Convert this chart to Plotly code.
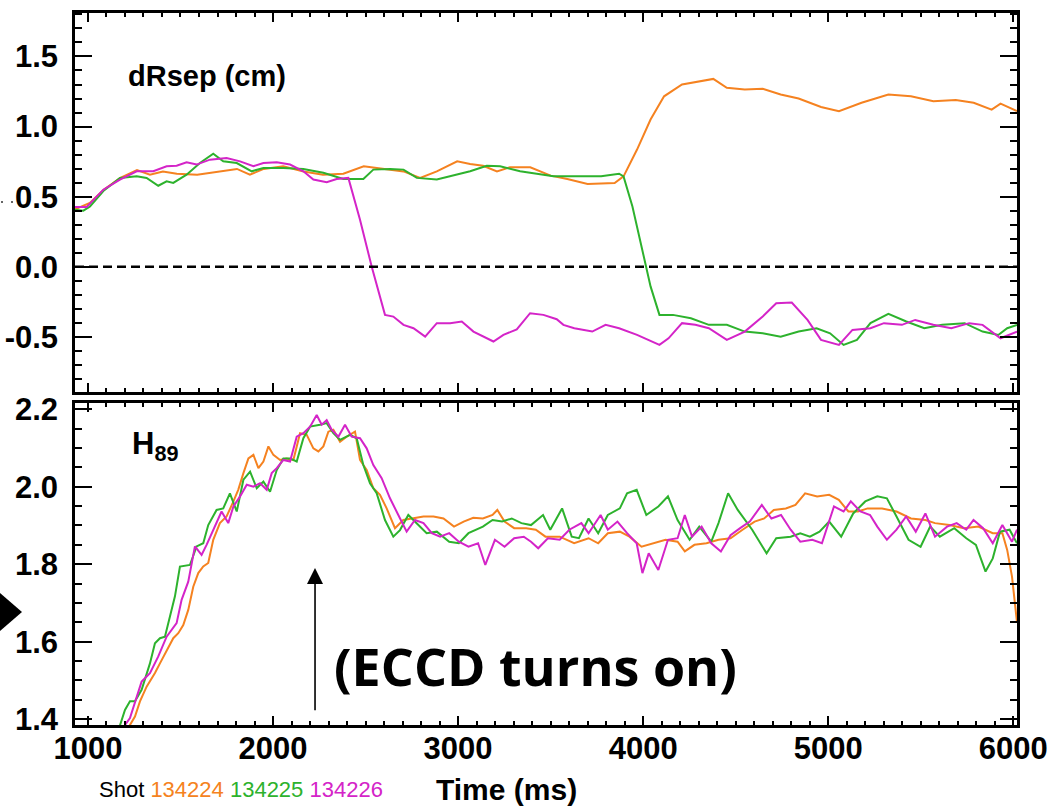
import plotly.graph_objects as go

# ---------------- data ----------------
shots = ["134224", "134225", "134226"]
colors = ["#F58220", "#2DB22D", "#D424C8"]

# dRsep (cm)
t_dr_224 = [930, 1010, 1085, 1175, 1265, 1335, 1405, 1480, 1590, 1680, 1805, 1875, 1950, 2055, 2165, 2270, 2380, 2490, 2595, 2705, 2795, 2885, 2995, 3065, 3135, 3210, 3280, 3390, 3500, 3590, 3700, 3846, 3894, 3967, 4040, 4113, 4210, 4307, 4379, 4452, 4549, 4646, 4743, 4840, 4961, 5058, 5180, 5325, 5447, 5568, 5689, 5786, 5883, 5931, 6020]
dr_224 = [0.41, 0.455, 0.55, 0.634, 0.69, 0.657, 0.68, 0.664, 0.657, 0.674, 0.698, 0.657, 0.698, 0.717, 0.68, 0.657, 0.664, 0.717, 0.698, 0.68, 0.634, 0.68, 0.752, 0.733, 0.72, 0.68, 0.71, 0.71, 0.65, 0.626, 0.59, 0.598, 0.645, 0.836, 1.05, 1.216, 1.30, 1.324, 1.34, 1.276, 1.264, 1.27, 1.229, 1.2, 1.14, 1.11, 1.17, 1.229, 1.217, 1.181, 1.19, 1.17, 1.121, 1.164, 1.11]

t_dr_225 = [930, 975, 1011, 1083, 1173, 1263, 1317, 1380, 1425, 1461, 1533, 1605, 1677, 1731, 1804, 1885, 1948, 2056, 2164, 2272, 2380, 2488, 2542, 2632, 2705, 2777, 2885, 2993, 3065, 3155, 3227, 3335, 3425, 3515, 3604, 3773, 3870, 3894, 3942, 3991, 4040, 4088, 4161, 4258, 4355, 4452, 4549, 4646, 4743, 4840, 4937, 5010, 5083, 5155, 5228, 5325, 5422, 5519, 5616, 5737, 5834, 5919, 5967, 6020]
dr_225 = [0.407, 0.40, 0.43, 0.54, 0.634, 0.645, 0.634, 0.578, 0.609, 0.598, 0.657, 0.74, 0.807, 0.752, 0.74, 0.681, 0.705, 0.705, 0.698, 0.67, 0.626, 0.626, 0.693, 0.698, 0.693, 0.634, 0.622, 0.657, 0.681, 0.721, 0.717, 0.681, 0.662, 0.645, 0.645, 0.645, 0.664, 0.645, 0.43, 0.145, -0.14, -0.343, -0.343, -0.367, -0.414, -0.414, -0.462, -0.474, -0.498, -0.462, -0.438, -0.474, -0.557, -0.521, -0.402, -0.336, -0.39, -0.438, -0.414, -0.402, -0.462, -0.486, -0.438, -0.414]

t_dr_226 = [930, 993, 1083, 1173, 1263, 1353, 1425, 1479, 1533, 1587, 1659, 1749, 1822, 1894, 1948, 2020, 2092, 2164, 2218, 2290, 2344, 2407, 2470, 2533, 2605, 2650, 2705, 2759, 2822, 2885, 2957, 3020, 3083, 3137, 3191, 3245, 3317, 3389, 3461, 3533, 3569, 3628, 3725, 3797, 3870, 3967, 4088, 4137, 4210, 4282, 4355, 4452, 4549, 4646, 4719, 4803, 4888, 4961, 5058, 5131, 5228, 5301, 5398, 5470, 5568, 5665, 5762, 5834, 5931, 6020]
dr_226 = [0.427, 0.427, 0.55, 0.622, 0.681, 0.681, 0.717, 0.721, 0.745, 0.729, 0.764, 0.776, 0.752, 0.717, 0.74, 0.745, 0.729, 0.681, 0.622, 0.603, 0.626, 0.634, 0.336, 0.002, -0.343, -0.355, -0.414, -0.438, -0.498, -0.402, -0.402, -0.39, -0.462, -0.498, -0.533, -0.486, -0.446, -0.331, -0.343, -0.374, -0.414, -0.438, -0.462, -0.414, -0.438, -0.486, -0.557, -0.51, -0.402, -0.414, -0.438, -0.521, -0.462, -0.355, -0.26, -0.255, -0.379, -0.521, -0.557, -0.45, -0.438, -0.402, -0.414, -0.379, -0.414, -0.438, -0.402, -0.414, -0.51, -0.462]

# H89
t_h_224 = [1190, 1227, 1254, 1281, 1317, 1362, 1389, 1434, 1461, 1488, 1515, 1542, 1569, 1596, 1623, 1650, 1677, 1713, 1749, 1786, 1812, 1840, 1867, 1894, 1921, 1948, 1975, 2002, 2038, 2074, 2110, 2146, 2182, 2218, 2245, 2272, 2299, 2326, 2362, 2398, 2443, 2470, 2506, 2542, 2578, 2614, 2659, 2704, 2758, 2813, 2867, 2921, 2978, 3030, 3082, 3134, 3186, 3212, 3251, 3303, 3368, 3420, 3472, 3549, 3627, 3705, 3757, 3809, 3874, 3926, 3991, 4056, 4121, 4186, 4225, 4277, 4342, 4407, 4472, 4537, 4602, 4654, 4706, 4771, 4823, 4875, 4940, 5005, 5057, 5109, 5161, 5213, 5291, 5369, 5447, 5525, 5577, 5655, 5733, 5811, 5889, 5941, 5967, 5993, 6020]
h_224 = [1.34, 1.385, 1.407, 1.446, 1.484, 1.519, 1.544, 1.587, 1.609, 1.622, 1.643, 1.682, 1.742, 1.777, 1.794, 1.803, 1.863, 1.906, 1.923, 1.962, 1.992, 2.035, 2.073, 2.082, 2.048, 2.065, 2.104, 2.082, 2.069, 2.073, 2.069, 2.138, 2.134, 2.099, 2.091, 2.104, 2.142, 2.147, 2.116, 2.129, 2.142, 2.069, 2.043, 1.996, 1.979, 1.944, 1.893, 1.914, 1.918, 1.923, 1.923, 1.918, 1.897, 1.91, 1.92, 1.918, 1.927, 1.94, 1.91, 1.893, 1.893, 1.889, 1.871, 1.871, 1.854, 1.867, 1.854, 1.88, 1.884, 1.871, 1.845, 1.854, 1.863, 1.858, 1.833, 1.85, 1.854, 1.863, 1.867, 1.889, 1.91, 1.918, 1.94, 1.944, 1.953, 1.983, 1.975, 1.979, 1.966, 1.936, 1.936, 1.944, 1.944, 1.936, 1.918, 1.914, 1.906, 1.901, 1.893, 1.897, 1.88, 1.88, 1.837, 1.768, 1.65]

t_h_225 = [1150, 1173, 1200, 1227, 1254, 1290, 1335, 1362, 1389, 1416, 1443, 1470, 1497, 1533, 1551, 1587, 1623, 1650, 1695, 1731, 1767, 1804, 1840, 1876, 1912, 1948, 1984, 2020, 2056, 2092, 2128, 2164, 2200, 2254, 2290, 2326, 2362, 2416, 2452, 2488, 2524, 2560, 2605, 2650, 2686, 2731, 2776, 2830, 2885, 2952, 3004, 3056, 3134, 3186, 3238, 3290, 3342, 3394, 3459, 3498, 3562, 3614, 3653, 3705, 3757, 3809, 3874, 3913, 3965, 4017, 4082, 4134, 4186, 4251, 4303, 4368, 4407, 4459, 4511, 4589, 4667, 4719, 4797, 4849, 4901, 4953, 5005, 5070, 5135, 5200, 5265, 5317, 5369, 5434, 5499, 5551, 5603, 5681, 5746, 5798, 5850, 5889, 5928, 5980, 6020]
h_225 = [1.35, 1.385, 1.424, 1.446, 1.446, 1.476, 1.544, 1.596, 1.609, 1.613, 1.669, 1.717, 1.794, 1.796, 1.798, 1.846, 1.854, 1.901, 1.94, 1.944, 1.983, 1.936, 2.018, 2.039, 1.996, 2.013, 1.987, 2.043, 2.073, 2.073, 2.065, 2.125, 2.155, 2.16, 2.164, 2.138, 2.121, 2.134, 2.125, 2.056, 2.009, 1.983, 1.914, 1.871, 1.888, 1.927, 1.906, 1.88, 1.884, 1.858, 1.854, 1.88, 1.897, 1.914, 1.91, 1.918, 1.906, 1.901, 1.927, 1.889, 1.944, 1.871, 1.867, 1.918, 1.88, 1.927, 1.944, 1.983, 1.992, 1.927, 1.949, 1.975, 1.914, 1.863, 1.897, 1.858, 1.906, 1.983, 1.94, 1.889, 1.828, 1.867, 1.871, 1.88, 1.871, 1.884, 1.91, 1.871, 1.931, 1.962, 1.975, 1.97, 1.923, 1.863, 1.845, 1.897, 1.871, 1.893, 1.867, 1.85, 1.781, 1.815, 1.884, 1.889, 1.854]

t_h_226 = [1180, 1200, 1227, 1263, 1290, 1335, 1380, 1425, 1452, 1479, 1506, 1542, 1578, 1614, 1641, 1677, 1722, 1758, 1786, 1822, 1858, 1894, 1930, 1966, 1993, 2020, 2056, 2092, 2128, 2164, 2200, 2236, 2263, 2290, 2317, 2353, 2389, 2425, 2470, 2506, 2542, 2587, 2632, 2677, 2722, 2767, 2813, 2858, 2903, 2952, 3004, 3056, 3108, 3147, 3199, 3251, 3303, 3355, 3394, 3433, 3485, 3549, 3601, 3666, 3705, 3770, 3809, 3861, 3913, 3965, 3996, 4030, 4082, 4134, 4186, 4225, 4264, 4316, 4368, 4420, 4472, 4524, 4576, 4641, 4693, 4745, 4797, 4849, 4914, 4966, 5031, 5083, 5122, 5174, 5226, 5265, 5317, 5369, 5421, 5473, 5525, 5577, 5642, 5694, 5746, 5785, 5837, 5889, 5941, 5993, 6020]
h_226 = [1.36, 1.385, 1.403, 1.458, 1.497, 1.519, 1.562, 1.613, 1.63, 1.648, 1.708, 1.755, 1.846, 1.824, 1.85, 1.889, 1.936, 1.906, 1.949, 1.975, 2.005, 2.0, 2.009, 1.992, 2.035, 2.048, 2.069, 2.065, 2.129, 2.138, 2.155, 2.185, 2.16, 2.172, 2.147, 2.129, 2.16, 2.129, 2.125, 2.099, 2.056, 2.022, 1.97, 1.927, 1.884, 1.914, 1.906, 1.88, 1.871, 1.88, 1.858, 1.845, 1.854, 1.798, 1.863, 1.845, 1.867, 1.871, 1.858, 1.841, 1.867, 1.863, 1.889, 1.906, 1.88, 1.927, 1.889, 1.91, 1.88, 1.854, 1.777, 1.828, 1.785, 1.863, 1.867, 1.927, 1.871, 1.897, 1.854, 1.833, 1.875, 1.893, 1.91, 1.953, 1.918, 1.927, 1.889, 1.858, 1.863, 1.854, 1.949, 1.936, 1.962, 1.936, 1.927, 1.897, 1.863, 1.889, 1.923, 1.884, 1.931, 1.871, 1.897, 1.906, 1.889, 1.914, 1.893, 1.854, 1.901, 1.858, 1.889]

eccd_on_time = 2227
x_ticks = [1000, 2000, 3000, 4000, 5000, 6000]
dr_ticks = [-0.5, 0.0, 0.5, 1.0, 1.5]
h_ticks = [1.4, 1.6, 1.8, 2.0, 2.2]

dr_series = [(t_dr_224, dr_224), (t_dr_225, dr_225), (t_dr_226, dr_226)]
h_series = [(t_h_224, h_224), (t_h_225, h_225), (t_h_226, h_226)]
for t, v in dr_series + h_series:
    assert len(t) == len(v), (len(t), len(v))

# ---------------- figure ----------------
W, H = 1050, 807
ML, MR, MT, MB = 75, 33, 13, 82
PW, PH = W - ML - MR, H - MT - MB


def px(x):
    return (x - ML) / PW


def py(y):
    return (H - MB - y) / PH


fig = go.Figure()
for (t, v), c, s in zip(dr_series, colors, shots):
    fig.add_trace(go.Scatter(x=t, y=v, mode="lines", line=dict(color=c, width=2),
                             name=s, xaxis="x", yaxis="y", showlegend=False))
for (t, v), c, s in zip(h_series, colors, shots):
    fig.add_trace(go.Scatter(x=t, y=v, mode="lines", line=dict(color=c, width=2),
                             name=s, xaxis="x2", yaxis="y2", showlegend=False))

tickfont = dict(family="Liberation Sans Narrow, Liberation Sans, Arial", size=31,
                color="black", weight="bold")
axis_common = dict(showline=True, linecolor="black", linewidth=2.5, mirror="ticks",
                   ticks="inside", tickcolor="black", tickwidth=2, showgrid=False,
                   zeroline=False, automargin=False, ticklabeloverflow="allow")
xr = [930, 6020]
xminor = dict(ticks="inside", dtick=100, ticklen=4, tickwidth=1.5, tickcolor="black")

fig.update_layout(
    width=W, height=H, margin=dict(l=ML, r=MR, t=MT, b=MB),
    paper_bgcolor="white", plot_bgcolor="white",
    xaxis=dict(domain=[0, 1], anchor="y", range=xr, tickvals=x_ticks, ticklen=9,
               showticklabels=False, minor=xminor, **axis_common),
    yaxis=dict(domain=[py(392), 1], anchor="x", range=[-0.893, 1.81],
               tickvals=dr_ticks, ticktext=[f"{v:.1f}" for v in dr_ticks],
               ticklen=17, tickfont=tickfont, ticklabelstandoff=8,
               minor=dict(ticks="inside", dtick=0.1, tick0=0, ticklen=7, tickwidth=1.5,
                          tickcolor="black"),
               **axis_common),
    xaxis2=dict(domain=[0, 1], anchor="y2", range=xr, tickvals=x_ticks, ticklen=9,
                tickfont=tickfont, ticklabelstandoff=-6, minor=xminor, **axis_common),
    yaxis2=dict(domain=[0, py(403)], anchor="x2", range=[1.385, 2.216],
                tickvals=h_ticks, ticktext=[f"{v:.1f}" for v in h_ticks],
                ticklen=17, tickfont=tickfont, ticklabelstandoff=8,
                minor=dict(ticks="inside", dtick=0.05, tick0=0, ticklen=7, tickwidth=1.5,
                           tickcolor="black"),
                **axis_common),
)

# zero reference line in dRsep panel
fig.add_shape(type="line", xref="x domain", yref="y", x0=0, x1=1, y0=0, y1=0,
              line=dict(color="black", width=2.5, dash="9px,5px"))

# slide decorations at the left edge
fig.add_shape(type="path", xref="paper", yref="paper",
              path=f"M {px(0)},{py(593)} L {px(22)},{py(612)} L {px(0)},{py(631)} Z",
              fillcolor="black", line=dict(color="black", width=0))
for dx in (2, 12):
    fig.add_shape(type="circle", xref="paper", yref="paper",
                  x0=px(dx - 1), x1=px(dx + 1), y0=py(203), y1=py(201),
                  fillcolor="#333", line=dict(width=0))

lab = dict(family="Liberation Sans, Arial", color="black", weight="bold")
fig.add_annotation(xref="paper", yref="paper", x=px(126), y=py(76), xanchor="left",
                   yanchor="middle", text="dRsep (cm)", showarrow=False,
                   font=dict(size=29, **lab))
fig.add_annotation(xref="paper", yref="paper", x=px(130), y=py(446), xanchor="left",
                   yanchor="middle", text="H<sub>89</sub>", showarrow=False,
                   font=dict(size=31, **lab))
fig.add_annotation(xref="paper", yref="paper", x=px(506), y=py(789), xanchor="center",
                   yanchor="middle", text="Time (ms)", showarrow=False,
                   font=dict(size=30, **lab))
legend_text = "Shot " + " ".join(
    f"<span style='color:{c}'>{s}</span>" for s, c in zip(shots, colors))
fig.add_annotation(xref="paper", yref="paper", x=px(97), y=py(790), xanchor="left",
                   yanchor="middle", text=legend_text, showarrow=False,
                   font=dict(family="Liberation Sans, Arial", size=22, color="black"))
fig.add_annotation(xref="paper", yref="paper", x=px(535), y=py(665), xanchor="center",
                   yanchor="middle", text="(ECCD turns on)", showarrow=False,
                   font=dict(family="Open Sans, Lato, sans-serif", size=52, color="black",
                             weight="bold"))
# arrow marking ECCD turn-on
fig.add_annotation(xref="x2", yref="y2", axref="x2", ayref="y2",
                   x=eccd_on_time, y=1.79, ax=eccd_on_time, ay=1.419, text="",
                   showarrow=True, arrowhead=2, arrowsize=2, arrowwidth=1.6,
                   arrowcolor="black", standoff=0)

fig.write_html("out.html")
